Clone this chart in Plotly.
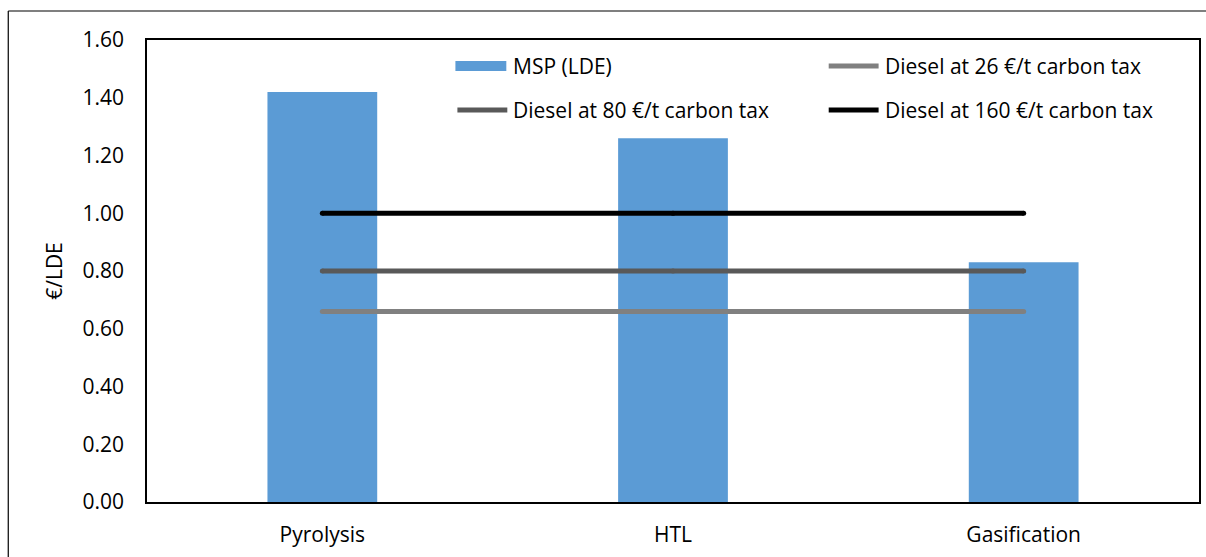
import plotly.graph_objects as go

# Minimum selling price of the three conversion routes (€/LDE)
routes = ["Pyrolysis", "HTL", "Gasification"]
msp_lde = [1.42, 1.26, 0.83]

# Fossil diesel reference prices under different carbon taxes (€/LDE)
diesel_26 = [0.66, 0.66, 0.66]
diesel_80 = [0.80, 0.80, 0.80]
diesel_160 = [1.00, 1.00, 1.00]

bar_name = "MSP (LDE)"
line_names = ["Diesel at 26 €/t carbon tax",
              "Diesel at 80 €/t carbon tax",
              "Diesel at 160 €/t carbon tax"]
line_series = [diesel_26, diesel_80, diesel_160]
line_colors = ["#808080", "#595959", "#000000"]

y_ticks = [0.0, 0.2, 0.4, 0.6, 0.8, 1.0, 1.2, 1.4, 1.6]

FONT = "Open Sans"
FSIZE = 21
BLUE = "#5B9BD5"

W, H = 1206, 557
M_L, M_R, M_T, M_B = 147, 5, 40, 55
PW, PH = W - M_L - M_R, H - M_T - M_B


def px_x(x):
    return (x - M_L) / PW


def px_y(y):
    return (H - M_B - y) / PH


fig = go.Figure()

fig.add_trace(go.Bar(x=routes, y=msp_lde, name=bar_name,
                     marker=dict(color=BLUE, line=dict(width=0))))

for name, vals, col in zip(line_names, line_series, line_colors):
    fig.add_trace(go.Scatter(x=routes, y=vals, name=name, mode="lines+markers",
                             line=dict(color=col, width=5),
                             marker=dict(color=col, size=5, line=dict(width=0))))

# Two-column legend drawn under the top edge of the plot
shapes = []
annotations = []
legend_items = [
    (bar_name, "bar", BLUE, 456, 66),
    (line_names[0], "line", line_colors[0], 828, 66),
    (line_names[1], "line", line_colors[1], 456, 110),
    (line_names[2], "line", line_colors[2], 828, 110),
]
for name, kind, col, x0, yc in legend_items:
    if kind == "bar":
        shapes.append(dict(type="rect", xref="paper", yref="paper",
                           x0=px_x(x0), x1=px_x(x0 + 51),
                           y0=px_y(yc + 5), y1=px_y(yc - 5),
                           fillcolor=col, line=dict(width=0)))
    else:
        shapes.append(dict(type="line", xref="paper", yref="paper",
                           x0=px_x(x0 + 2), x1=px_x(x0 + 52),
                           y0=px_y(yc), y1=px_y(yc),
                           line=dict(color=col, width=5)))
    annotations.append(dict(text=name, xref="paper", yref="paper",
                            x=px_x(x0 + 56), y=px_y(yc), xanchor="left",
                            yanchor="middle", showarrow=False,
                            font=dict(family=FONT, size=FSIZE, color="#000000")))

# Outer chart-area frame (left and top edges visible)
shapes.append(dict(type="line", xref="paper", yref="paper",
                   x0=px_x(8), x1=px_x(8), y0=px_y(11), y1=px_y(H + 5),
                   line=dict(color="#000000", width=1.2)))
shapes.append(dict(type="line", xref="paper", yref="paper",
                   x0=px_x(8), x1=px_x(W + 5), y0=px_y(11), y1=px_y(11),
                   line=dict(color="#000000", width=1.2)))

fig.update_layout(
    width=W, height=H,
    margin=dict(l=M_L, r=M_R, t=M_T, b=M_B, pad=0),
    paper_bgcolor="white", plot_bgcolor="white",
    bargap=0.687,
    showlegend=False,
    font=dict(family=FONT, size=FSIZE, color="#000000"),
    shapes=shapes,
    annotations=annotations,
)

fig.update_xaxes(showline=True, linecolor="#000000", linewidth=2, mirror=True,
                 ticks="", showgrid=False, ticklabelstandoff=13,
                 tickfont=dict(family=FONT, size=FSIZE))
fig.update_yaxes(range=[0, 1.6], tickvals=y_ticks, tickformat=".2f",
                 showline=True, linecolor="#000000", linewidth=1.5, mirror=True,
                 ticks="", showgrid=False, zeroline=False, ticklabelstandoff=17,
                 tickfont=dict(family=FONT, size=FSIZE),
                 title=dict(text="€/LDE", standoff=14,
                            font=dict(family=FONT, size=FSIZE)))

fig.write_html("out.html")
